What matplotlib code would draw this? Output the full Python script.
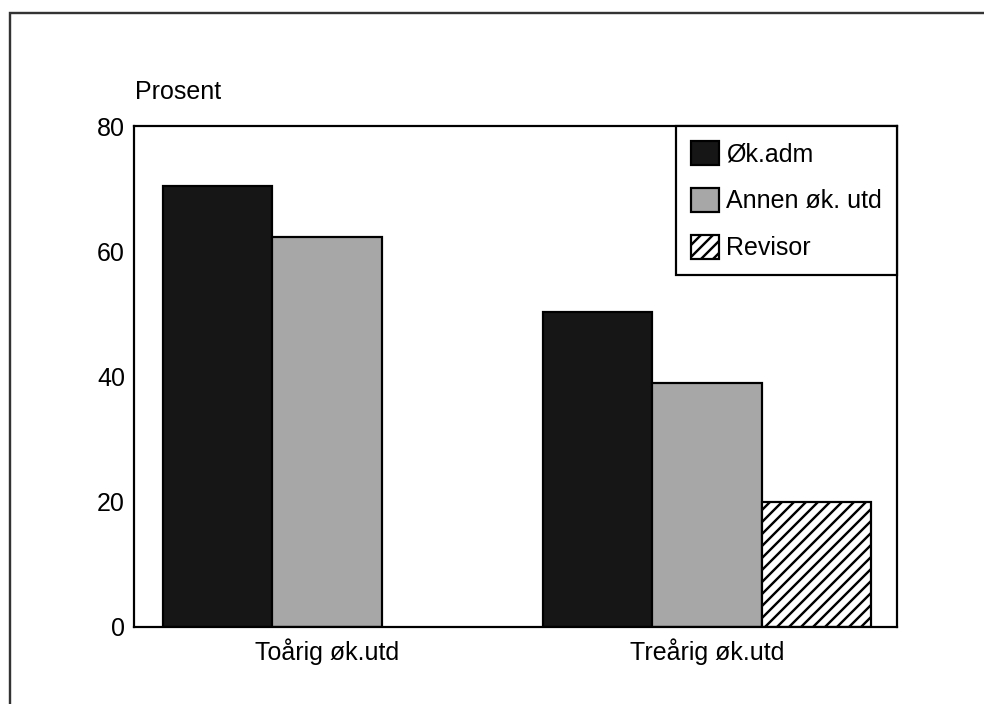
import numpy as np
import matplotlib
matplotlib.use('Agg')
import matplotlib.pyplot as plt
from matplotlib.patches import Rectangle

plt.rcParams['font.family'] = ['Liberation Sans', 'DejaVu Sans']
plt.rcParams['hatch.linewidth'] = 1.2

# Data
categories = ['Toårig øk.utd', 'Treårig øk.utd']
series_names = ['Øk.adm', 'Annen øk. utd', 'Revisor']
okadm = [70.4, 50.3]
annen = [62.2, 39.0]
revisor = [np.nan, 20.0]
yticks = [0, 20, 40, 60, 80]

fs = 12.5
fig = plt.figure(figsize=(984 / 144, 704 / 144), dpi=144)
ax = fig.add_axes([134 / 984, 1 - 627 / 704, (897 - 134) / 984, (627 - 126) / 704])

x = np.arange(len(categories))
w = 0.288
styles = [
    dict(color='#161616', edgecolor='black'),
    dict(color='#a7a7a7', edgecolor='black'),
    dict(color='white', edgecolor='black', hatch='////'),
]
for i, (vals, name, st) in enumerate(zip([okadm, annen, revisor], series_names, styles)):
    ax.bar(x + (i - 1) * w, vals, width=w, linewidth=1.1, label=name, **st)

ax.set_xlim(-0.508, 1.5)
ax.set_ylim(0, 80)
ax.set_yticks(yticks)
ax.set_xticks(x)
ax.set_xticklabels(categories)
ax.tick_params(axis='y', length=0, pad=4.5, labelsize=fs)
ax.tick_params(axis='x', length=0, pad=5.5, labelsize=fs)
for s in ax.spines.values():
    s.set_linewidth(1.1)

ax.annotate('Prosent', xy=(0, 1), xycoords='axes fraction', xytext=(0.5, 13.5),
            textcoords='offset points', fontsize=fs, ha='left', va='baseline')

leg = ax.legend(loc='upper right', borderaxespad=0, fancybox=False, framealpha=1,
                edgecolor='black', fontsize=fs, handlelength=1.1, handleheight=1.1,
                handletextpad=0.3, labelspacing=0.85, borderpad=0.6)
leg.get_frame().set_linewidth(1.1)

# outer frame of the figure
fig.patches.append(Rectangle((10 / 984, -0.2), 1.2, 1 - 13 / 704 + 0.2,
                             transform=fig.transFigure, fill=False,
                             edgecolor='#333333', linewidth=1.2))

fig.savefig('out.png', dpi=144)
